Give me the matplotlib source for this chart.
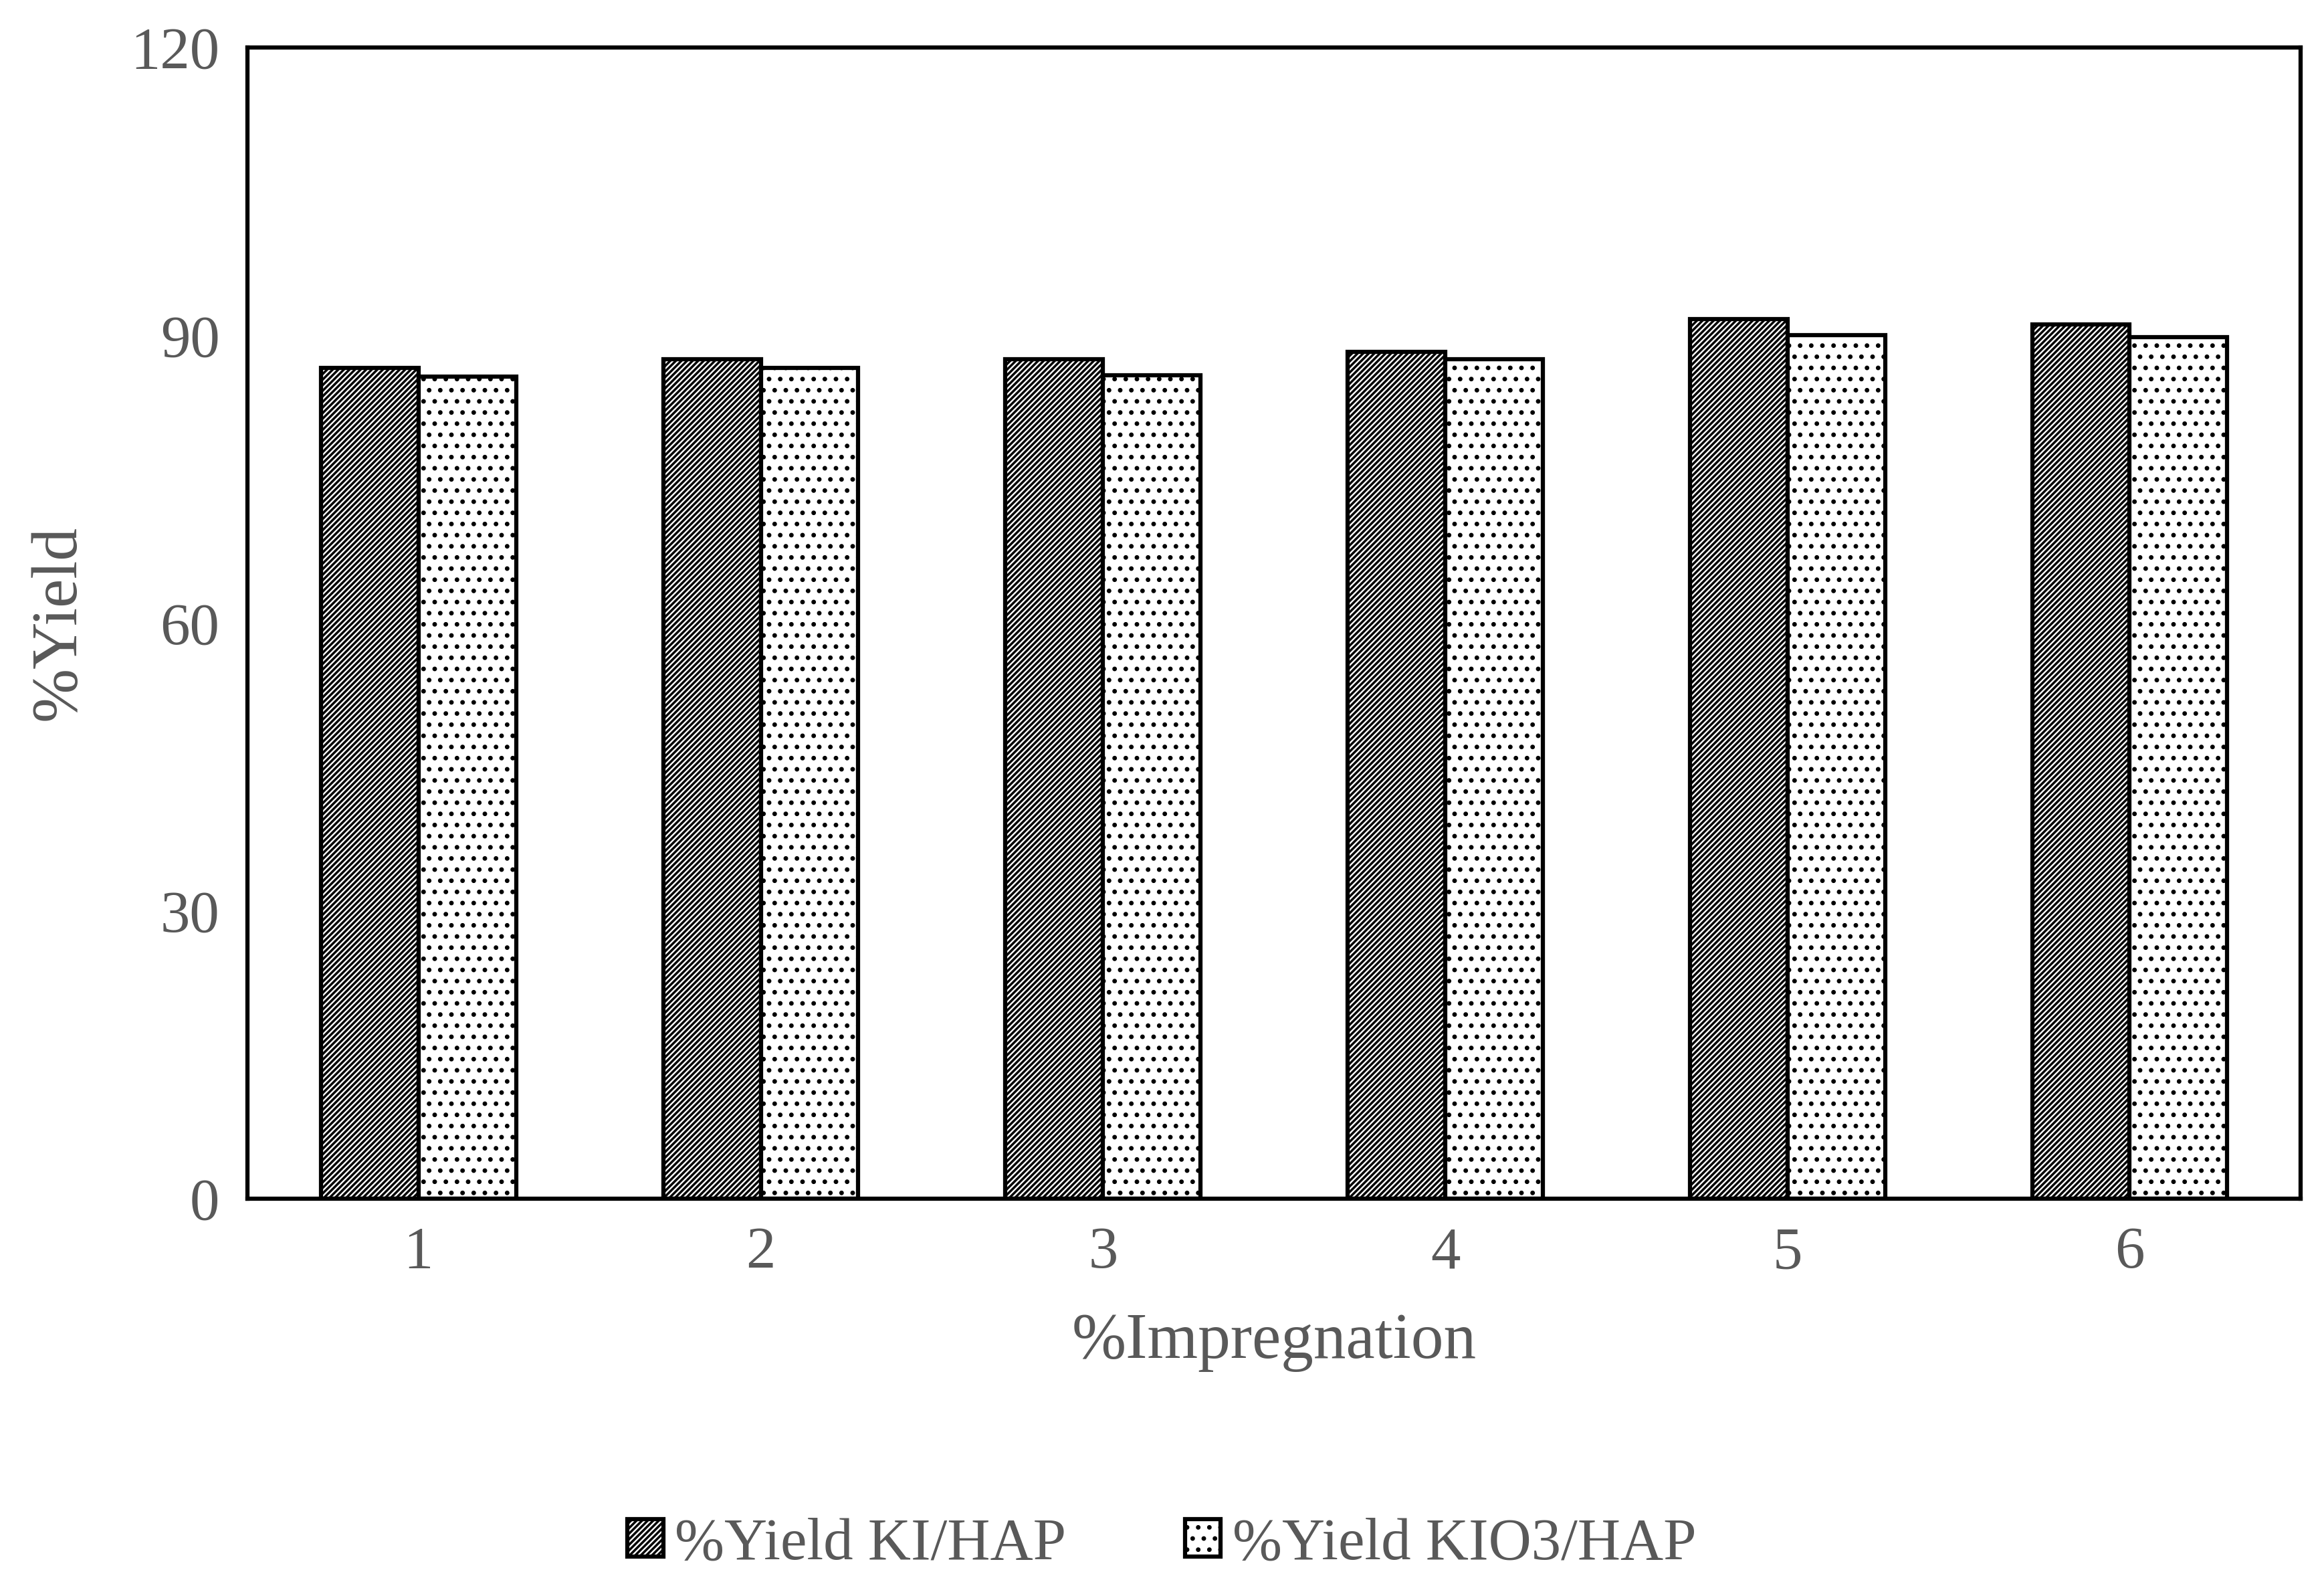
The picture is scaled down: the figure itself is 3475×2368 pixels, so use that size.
import numpy as np
import matplotlib
matplotlib.use("Agg")
import matplotlib.pyplot as plt

categories = ["1", "2", "3", "4", "5", "6"]
yield_ki = [86.6, 87.5, 87.5, 88.3, 91.7, 91.1]
yield_kio3 = [85.7, 86.6, 85.8, 87.5, 90.0, 89.8]
labels = ["%Yield KI/HAP", "%Yield KIO3/HAP"]

plt.rcParams['font.family'] = ['Liberation Serif', 'DejaVu Serif']
plt.rcParams['hatch.linewidth'] = 2.5

fig = plt.figure(figsize=(34.75, 23.68), dpi=100)
ax = fig.add_axes([0.1065, 0.2434, 0.8835, 0.7266])

x = np.arange(len(categories))
w = 0.285
ax.bar(x - w/2, yield_ki, w, facecolor='white', edgecolor='black', hatch='////', linewidth=4.5, label=labels[0])
ax.bar(x + w/2, yield_kio3, w, facecolor='white', edgecolor='black', hatch='.', linewidth=4.5, label=labels[1])

ax.set_xlim(-0.5, 5.5)
ax.set_ylim(0, 120)
ax.set_yticks([0, 30, 60, 90, 120])
ax.set_xticks(x)
ax.set_xticklabels(categories)
ax.tick_params(length=0, labelsize=64, labelcolor='#595959', pad=30)
for s in ax.spines.values():
    s.set_linewidth(4.5)

ax.set_xlabel("%Impregnation", fontsize=70, color='#595959', labelpad=35)
ax.set_ylabel("%Yield", fontsize=70, color='#595959', labelpad=45)

fig.legend(loc='center', bbox_to_anchor=(0.5, 0.025), ncol=2, frameon=False,
           fontsize=64, labelcolor='#595959', handlelength=0.6, handleheight=0.6,
           handletextpad=0.2, columnspacing=2.0)

fig.savefig("out.png", dpi=100)
